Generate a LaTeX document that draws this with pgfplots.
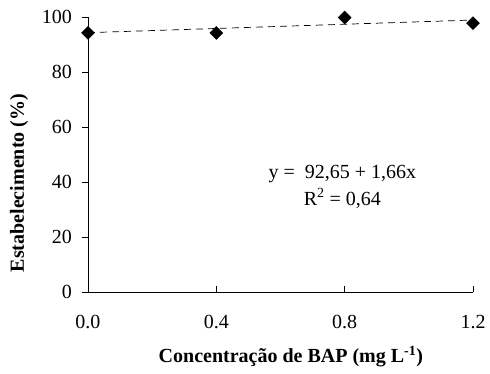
\documentclass[border=0pt]{standalone}
\usepackage{fontspec}
\setmainfont{Liberation Serif}
\usepackage{pgfplots}
\pgfplotsset{compat=1.18}
\begin{document}
\begin{tikzpicture}
\begin{axis}[
  at={(0pt,0pt)}, anchor=south west,
  scale only axis, width=385pt, height=275pt,
  xmin=0, xmax=1.2, ymin=0, ymax=100,
  axis x line*=bottom, axis y line*=left,
  axis line style={line width=0.8pt},
  xtick={0,0.4,0.8,1.2}, ytick={0,20,40,60,80,100},
  xticklabels={0.0,0.4,0.8,1.2},
  tick align=inside,
  major tick length=6pt,
  major y tick style={xshift=-6pt},
  tick style={black, line width=0.8pt},
  /pgf/number format/assume math mode=true,
  ticklabel style={font=\fontsize{20}{22}\selectfont, inner sep=0pt},
  yticklabel style={anchor=east, xshift=-16pt},
  xticklabel style={anchor=base, yshift=-36pt},
  xlabel={\textbf{Concentração de BAP (mg L\textsuperscript{-1})}},
  ylabel={\textbf{Estabelecimento (\%)}},
  label style={font=\fontsize{20}{22}\selectfont, inner sep=0pt},
  xlabel style={at={(axis description cs:0.527,-0.258)}, anchor=base},
  ylabel style={at={(axis description cs:-0.179,0.396)}, anchor=center},
  clip=false,
]
\addplot[black, dash pattern=on 7pt off 5pt, line width=0.7pt] coordinates {(0,94.3) (1.2,98.9)};
\addplot[only marks, mark=square*, mark size=4.6pt, mark options={rotate=45}, black] coordinates {(0,94.2) (0.4,94.2) (0.8,99.8) (1.2,97.8)};
\node[font=\fontsize{20}{22}\selectfont, anchor=base] at (axis cs:0.793,41.45) {y =~ 92,65 + 1,66x};
\node[font=\fontsize{20}{22}\selectfont, anchor=base] at (axis cs:0.793,31.6) {R\textsuperscript{2} = 0,64};
\end{axis}
\pgfresetboundingbox
\path[use as bounding box] (-88pt,-81pt) rectangle (402pt,292pt);
\end{tikzpicture}
\end{document}
